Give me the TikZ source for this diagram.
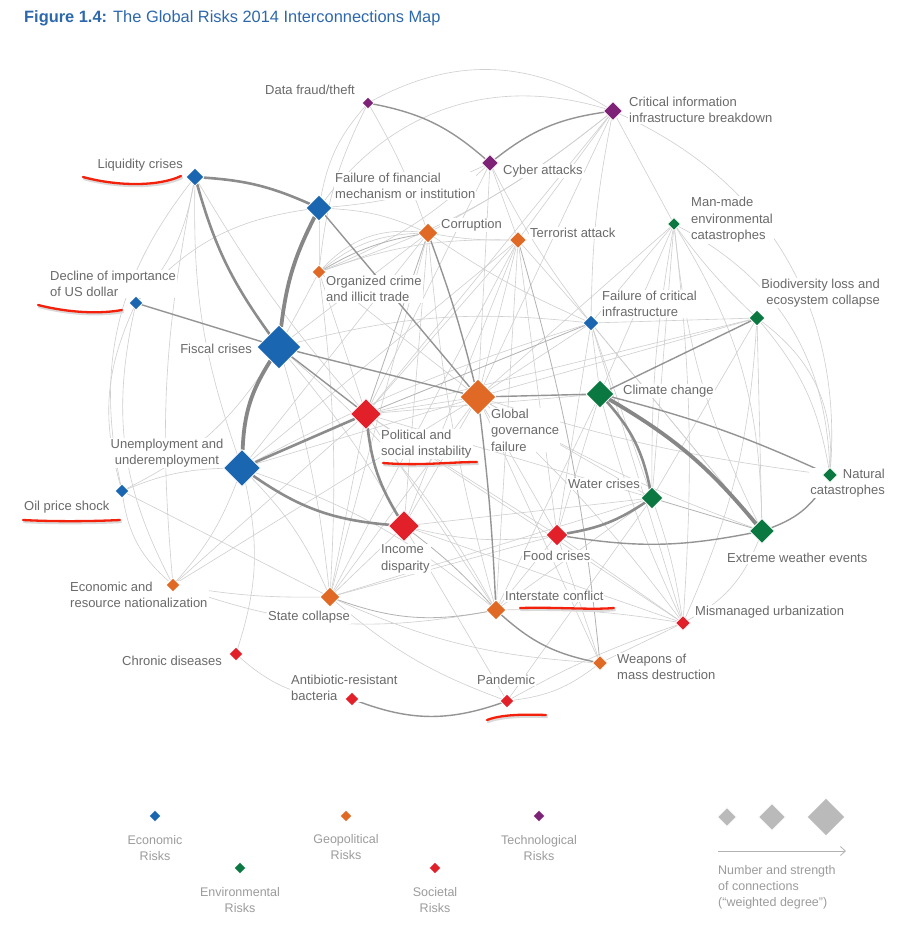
\documentclass[tikz,border=0pt]{standalone}
\usepackage{fontspec}
\setmainfont{Liberation Sans}
\usetikzlibrary{shapes.geometric,arrows.meta}
\pgfdeclarelayer{edges}
\pgfdeclarelayer{labels}
\pgfsetlayers{edges,labels,main}
\definecolor{eco}{HTML}{1A66B0}
\definecolor{geo}{HTML}{E06A25}
\definecolor{tech}{HTML}{7D2276}
\definecolor{env}{HTML}{0A7840}
\definecolor{soc}{HTML}{E2202A}
\definecolor{labgray}{HTML}{6A6A6A}
\definecolor{leggray}{HTML}{9C9C9C}
\definecolor{titleblue}{HTML}{2D68AC}
\definecolor{annot}{HTML}{F3200C}
\newcommand\labf{\fontsize{13}{16.5}\selectfont}
\newcommand\legf{\fontsize{12.5}{16}\selectfont}
\tikzset{
  dia/.style={shape=diamond, inner sep=0pt, draw=white, line width=0.7pt},
  lab/.style={text=labgray, font=\labf, inner sep=1pt, fill=white, align=left},
  leg/.style={text=leggray, font=\legf, inner sep=1pt, align=center},
  e1/.style={draw=black!19, line width=0.6pt},
  e2/.style={draw=black!30, line width=0.8pt},
  e3/.style={draw=black!42, line width=1.4pt},
  e4/.style={draw=black!45, line width=2.6pt},
  e5/.style={draw=black!47, line width=3.8pt},
  redline/.style={draw=annot, line width=2.3pt, line cap=round},
  redshadow/.style={draw=black!15, line width=2.3pt, line cap=round},
}
\newcommand\risk[5]{\node[dia, minimum width=#4*2, minimum height=#4*2, fill=#5] (#1) at (#2,-#3) {};}
\begin{document}
\begin{tikzpicture}[x=1pt,y=1pt]
\begin{pgfonlayer}{edges}
\fill[white] (0,0) rectangle (904,-934);
\end{pgfonlayer}
\useasboundingbox (0,0) rectangle (904,-934);

% title
\node[anchor=west, inner sep=0pt, text=titleblue, font=\fontsize{16.4}{19}\selectfont] (title) at (24,-18) {\textbf{Figure 1.4:} The Global Risks 2014 Interconnections Map};

% risk nodes
\risk{df}{368}{103}{6}{tech}
\risk{cii}{613}{111}{9.5}{tech}
\risk{cy}{490}{163}{8.5}{tech}
\risk{liq}{195}{177}{9}{eco}
\risk{ffm}{319}{208}{13}{eco}
\risk{cor}{428}{233}{10}{geo}
\risk{ter}{518}{240}{8.5}{geo}
\risk{mm}{674}{224}{6.5}{env}
\risk{oc}{319}{272}{7}{geo}
\risk{usd}{136}{303}{7}{eco}
\risk{fci}{591}{323}{8}{eco}
\risk{bio}{757}{318}{8}{env}
\risk{fis}{279}{347}{22}{eco}
\risk{ggf}{478}{397}{18}{geo}
\risk{cc}{600}{394}{14}{env}
\risk{psi}{366}{414}{15.5}{soc}
\risk{unemp}{242}{468}{18.5}{eco}
\risk{oil}{122}{491}{7}{eco}
\risk{nat}{830}{475}{7.5}{env}
\risk{wat}{652}{498}{11}{env}
\risk{inc}{404}{526}{15.5}{soc}
\risk{food}{557}{535}{11}{soc}
\risk{ext}{762}{531}{12.5}{env}
\risk{ern}{173}{585}{7}{geo}
\risk{sc}{330}{597}{10}{geo}
\risk{isc}{496}{610}{10}{geo}
\risk{mu}{683}{623}{7.5}{soc}
\risk{chr}{236}{654}{7}{soc}
\risk{wmd}{600}{663}{7.5}{geo}
\risk{abr}{352}{699}{7}{soc}
\risk{pan}{507}{701}{7}{soc}

% connections
\begin{pgfonlayer}{edges}
\foreach \ea/\eb/\est/\ebd in {
 df/cii/e1/30, ffm/cii/e1/35, df/ffm/e1/-15, df/oc/e1/-10, df/cor/e1/5,
 cy/ffm/e1/10, cy/oc/e1/10, cy/ter/e1/0, cy/ggf/e1/0, cy/psi/e1/0, cy/fci/e1/-5,
 cii/ter/e1/0, cii/cor/e1/5, cii/fci/e1/-5, cii/ggf/e1/0, cii/mm/e1/0, cii/psi/e1/0,
 cii/nat/e1/35, cii/oc/e1/10,
 liq/usd/e1/15, liq/oil/e1/-25, liq/unemp/e1/-10, liq/ern/e1/-8, liq/psi/e1/-5,
 usd/ffm/e1/20, usd/ern/e1/-20, usd/oil/e1/-20, oil/ern/e1/-20, oil/sc/e1/0,
 oil/fis/e1/-15, oil/unemp/e1/10,
 fis/inc/e1/5, fis/sc/e1/5, fis/isc/e1/10, fis/fci/e1/10, fis/cor/e1/0, fis/oc/e1/0,
 unemp/ern/e1/10, unemp/sc/e1/10, unemp/chr/e1/15, unemp/ggf/e1/0, unemp/fci/e1/5,
 unemp/isc/e1/10, ern/ggf/e1/0, ern/sc/e1/-5, ern/isc/e1/-15, ern/psi/e1/0,
 chr/abr/e1/-20,
 oc/cor/e2/10, oc/cor/e1/18, oc/cor/e1/26, cor/psi/e2/0, cor/sc/e1/0, cor/inc/e1/0,
 cor/ffm/e1/-10, cor/ter/e1/-5, cor/isc/e1/-5, cor/fci/e1/-5, cor/unemp/e1/0,
 oc/ter/e1/10, oc/ggf/e1/0, oc/psi/e1/0, oc/sc/e1/5, oc/ffm/e1/0,
 ter/ggf/e1/0, ter/psi/e1/0, ter/sc/e1/0, ter/isc/e1/0, ter/inc/e1/0, ter/fci/e1/0,
 ter/food/e1/0, ter/unemp/e1/0,
 ggf/psi/e1/0, ggf/inc/e1/0, ggf/sc/e1/0, ggf/food/e1/0, ggf/wat/e1/0, ggf/fci/e1/0,
 ggf/ext/e1/-5, ggf/nat/e1/-5, ggf/bio/e1/0, ggf/mm/e1/0, ggf/wmd/e1/0, ggf/mu/e1/5,
 psi/isc/e1/0, psi/food/e1/0, psi/sc/e1/0, psi/fci/e2/0, psi/cc/e1/0, psi/wat/e1/0,
 psi/mu/e1/0, psi/bio/e1/0,
 inc/food/e1/-10, inc/sc/e1/0, inc/isc/e2/5, inc/mu/e1/0, inc/wat/e1/0,
 sc/wmd/e1/-10, sc/food/e1/0, sc/wat/e1/0, sc/pan/e1/-10,
 isc/mu/e1/5, isc/food/e1/0, isc/wat/e1/0, isc/cc/e1/0,
 food/cc/e1/0, food/mu/e1/0, food/wmd/e1/0,
 wat/ext/e2/0, wat/mu/e1/5, wat/bio/e1/0, wat/fci/e1/0, wat/mm/e1/0,
 cc/fci/e1/0, cc/mm/e1/0, cc/mu/e1/-5,
 ext/mu/e1/20, ext/bio/e1/0, ext/mm/e1/10, ext/fci/e1/0,
 bio/mm/e1/5, bio/nat/e1/15, bio/nat/e1/28, bio/mu/e1/10, bio/fci/e1/0,
 mm/nat/e1/30, mm/ext/e1/15, mm/mu/e1/5, mm/wat/e1/-5, mm/fci/e1/0,
 fci/mu/e1/0, fci/ext/e1/0, fci/food/e1/0,
 mu/wmd/e1/0, wmd/pan/e1/15, pan/wat/e1/0, pan/mu/e1/5, pan/inc/e1/0,
 sc/isc/e2/-15, ter/wmd/e2/5,
 liq/ffm/e4/10, liq/fis/e4/-10, ffm/fis/e5/-10, fis/unemp/e5/-15,
 unemp/psi/e4/0, unemp/inc/e4/-15, psi/inc/e4/-12,
 fis/psi/e3/0, fis/ggf/e3/0, usd/fis/e3/0, ffm/ggf/e3/0, cor/ggf/e3/3,
 ggf/cc/e3/0, ggf/isc/e3/2, cc/ext/e5/10, cc/wat/e4/15, cc/nat/e3/5, bio/cc/e3/0,
 wat/food/e4/12, food/ext/e3/-10, ext/nat/e3/-20, isc/wmd/e3/-15, abr/pan/e3/-20,
 df/cy/e3/15, cy/cii/e3/15}
 {\draw[\est] (\ea) to[bend left=\ebd] (\eb);}
\end{pgfonlayer}

% labels
\begin{pgfonlayer}{labels}
\node[lab, anchor=east] (l-df) at (356,-90) {Data fraud/theft};
\node[lab, anchor=west] (l-cii) at (628,-110) {Critical information\\infrastructure breakdown};
\node[lab, anchor=west] (l-cy) at (502,-171) {Cyber attacks};
\node[lab, anchor=east] (l-liq) at (184,-165) {Liquidity crises};
\node[lab, anchor=west] (l-ffm) at (334,-186) {Failure of financial\\mechanism or institution};
\node[lab, anchor=west] (l-cor) at (440,-225) {Corruption};
\node[lab, anchor=west] (l-ter) at (529,-233) {Terrorist attack};
\node[lab, anchor=west] (l-mm) at (690,-220) {Man-made\\environmental\\catastrophes};
\node[lab, anchor=west] (l-oc) at (325,-289) {Organized crime\\and illicit trade};
\node[lab, anchor=west] (l-usd) at (49,-284) {Decline of importance\\of US dollar};
\node[lab, anchor=west] (l-fci) at (601,-304) {Failure of critical\\infrastructure};
\node[lab, anchor=east, align=right] (l-bio) at (881,-293) {Biodiversity loss and\\ecosystem collapse};
\node[lab, anchor=east] (l-fis) at (253,-349) {Fiscal crises};
\node[lab, anchor=west] (l-ggf) at (490,-430) {Global\\governance\\failure};
\node[lab, anchor=west] (l-cc) at (622,-391) {Climate change};
\node[lab, anchor=west] (l-psi) at (380,-444) {Political and\\social instability};
\node[lab, align=center] (l-unemp) at (167,-453) {Unemployment and\\underemployment};
\node[lab, anchor=west] (l-oil) at (23,-507) {Oil price shock};
\node[lab, anchor=east, align=right] (l-nat) at (886,-483) {Natural\\catastrophes};
\node[lab, anchor=west] (l-wat) at (567,-484) {Water crises};
\node[lab, anchor=west] (l-inc) at (380,-559) {Income\\disparity};
\node[lab, anchor=west] (l-food) at (522,-556) {Food crises};
\node[lab, anchor=west] (l-ext) at (726,-558) {Extreme weather events};
\node[lab, anchor=west] (l-ern) at (69,-595) {Economic and\\resource nationalization};
\node[lab, anchor=west] (l-sc) at (267,-617) {State collapse};
\node[lab, anchor=west] (l-isc) at (504,-596) {Interstate conflict};
\node[lab, anchor=west] (l-mu) at (694,-612) {Mismanaged urbanization};
\node[lab, anchor=west] (l-chr) at (121,-661) {Chronic diseases};
\node[lab, anchor=west] (l-wmd) at (616,-667) {Weapons of\\mass destruction};
\node[lab, anchor=west] (l-abr) at (290,-688) {Antibiotic-resistant\\bacteria};
\node[lab, anchor=west] (l-pan) at (476,-680) {Pandemic};
\end{pgfonlayer}

% hand-drawn red underlines
\foreach \sty/\dx/\dy in {redshadow/1/-2, redline/0/0}{
 \begin{scope}[shift={(\dx,\dy)}]
  \draw[\sty] (83,-177) .. controls (120,-187) and (160,-186) .. (181,-176);
  \draw[\sty] (38,-305) .. controls (70,-313) and (100,-314) .. (122,-310);
  \draw[\sty] (23,-520) .. controls (60,-522) and (100,-521) .. (120,-520);
  \draw[\sty] (383,-463) .. controls (420,-466) and (450,-462) .. (477,-462);
  \draw[\sty] (520,-608) .. controls (560,-607) and (590,-610) .. (614,-608);
  \draw[\sty] (487,-720) .. controls (500,-715) and (520,-714) .. (546,-715);
 \end{scope}
}

% legend
\node[dia, minimum width=12, minimum height=12, fill=eco] (k-eco) at (155,-816) {};
\node[dia, minimum width=12, minimum height=12, fill=geo] (k-geo) at (346,-816) {};
\node[dia, minimum width=12, minimum height=12, fill=tech] (k-tech) at (539,-816) {};
\node[dia, minimum width=12, minimum height=12, fill=env] (k-env) at (240,-868) {};
\node[dia, minimum width=12, minimum height=12, fill=soc] (k-soc) at (435,-868) {};
\node[leg] (t-eco) at (155,-848) {Economic\\Risks};
\node[leg] (t-geo) at (346,-847) {Geopolitical\\Risks};
\node[leg] (t-tech) at (539,-848) {Technological\\Risks};
\node[leg] (t-env) at (240,-900) {Environmental\\Risks};
\node[leg] (t-soc) at (435,-900) {Societal\\Risks};

\node[dia, minimum width=19, minimum height=19, fill=black!27] (g1) at (727,-817) {};
\node[dia, minimum width=27, minimum height=27, fill=black!27] (g2) at (772,-817) {};
\node[dia, minimum width=38, minimum height=38, fill=black!27] (g3) at (826,-817) {};
\coordinate (ar1) at (718,-851);
\coordinate (ar2) at (846,-851);
\draw[draw=black!30, line width=0.8pt, -{Straight Barb[length=5pt,width=9pt]}] (ar1) -- (ar2);
\node[leg, anchor=west, align=left] (t-deg) at (717,-887) {Number and strength\\of connections\\(“weighted degree”)};
\end{tikzpicture}
\end{document}
